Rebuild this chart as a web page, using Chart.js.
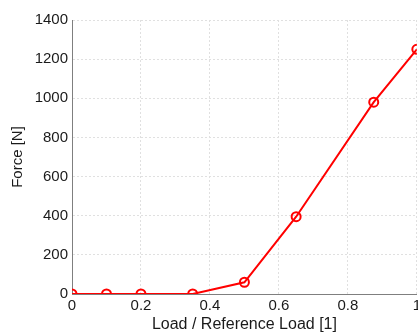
<!DOCTYPE html>
<html>
<head>
<meta charset="utf-8">
<script src="https://cdn.jsdelivr.net/npm/chart.js@4"></script>
<style>
  html, body { margin: 0; padding: 0; background: #fff; overflow: hidden; }
  #wrap { width: 424px; height: 334px; }
</style>
</head>
<body>
<div id="wrap"><canvas id="myChart" width="424" height="334"></canvas></div>
<script>
// load ratio on x, force on y
let loadRatio = [0, 0.1, 0.2, 0.35, 0.5, 0.65, 0.875, 1];
let force = [0, 0, 0, 0, 60, 395, 980, 1250];
let xTitle = "Load / Reference Load [1]";
let yTitle = "Force [N]";

let points = loadRatio.map((x, i) => ({ x: x, y: force[i] }));

let fontFamily = "'Liberation Sans', Arial, Helvetica, sans-serif";
let gridStyle = {
    color: "#e0e0e0",
    lineWidth: 1,
    tickLength: 0,
    drawTicks: false
};

let ctx = document.getElementById("myChart").getContext("2d");
let forceChart = new Chart(ctx, {
    type: "line",
    data: {
        datasets: [{
            label: "Force",
            data: points,
            borderColor: "#ff0000",
            backgroundColor: "rgba(0,0,0,0)",
            borderWidth: 2,
            pointRadius: 4.5,
            pointBorderWidth: 2,
            pointBorderColor: "#ff0000",
            pointBackgroundColor: "rgba(0,0,0,0)",
            tension: 0
        }]
    },
    options: {
        responsive: false,
        animation: false,
        layout: { padding: { top: 20, right: 0, left: 0, bottom: 0 } },
        plugins: {
            legend: { display: false },
            tooltip: { enabled: false }
        },
        scales: {
            x: {
                type: "linear",
                min: 0,
                max: 1,
                ticks: {
                    stepSize: 0.2, color: "#1a1a1a", font: { family: fontFamily, size: 15 }, padding: 3,
                    callback: (v) => String(Math.round(v * 10) / 10)
                },
                grid: gridStyle,
                border: { color: "#7f7f7f", width: 1, dash: [2, 2] },
                title: { display: true, text: xTitle, color: "#1a1a1a", font: { family: fontFamily, size: 16 }, padding: 0 },
                afterFit: function (scale) { scale.height = 40; }
            },
            y: {
                min: 0,
                max: 1400,
                ticks: {
                    stepSize: 200, color: "#1a1a1a", font: { family: fontFamily, size: 15 }, padding: 4,
                    callback: (v) => String(v)
                },
                grid: gridStyle,
                border: { color: "#7f7f7f", width: 1, dash: [2, 2] },
                title: { display: true, text: yTitle, color: "#1a1a1a", font: { family: fontFamily, size: 15 }, padding: { top: 9, bottom: 0 } },
                afterFit: function (scale) { scale.width = 72; }
            }
        }
    }
});
</script>
</body>
</html>
